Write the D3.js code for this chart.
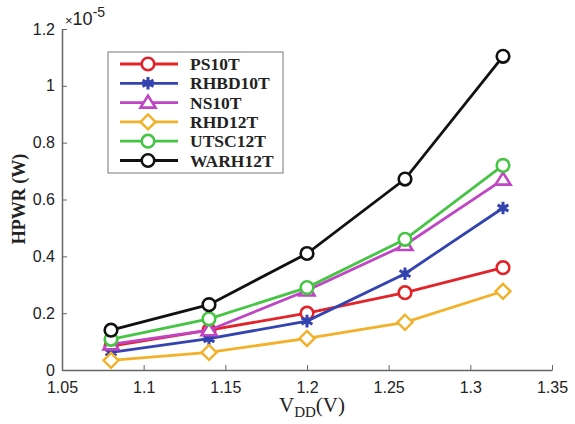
<!DOCTYPE html>
<html>
<head>
<meta charset="utf-8">
<script src="https://cdn.jsdelivr.net/npm/d3@7"></script>
<style>
  body { margin: 0; background: white; }
  .tick text { font-family: Arial, "Liberation Sans", sans-serif; font-size: 16px; fill: #222; }
</style>
</head>
<body>
<svg id="chart" width="575" height="424"></svg>
<script>
// x values (V_DD) and power values in units of 1e-5 W
var vdd = [1.08, 1.14, 1.2, 1.26, 1.32];
var ps10t   = [0.084, 0.14, 0.20, 0.272, 0.36];
var rhbd10t = [0.062, 0.11, 0.172, 0.339, 0.57];
var ns10t   = [0.09, 0.14, 0.28, 0.44, 0.67];
var rhd12t  = [0.034, 0.062, 0.111, 0.168, 0.277];
var utsc12t = [0.108, 0.18, 0.29, 0.46, 0.72];
var warh12t = [0.14, 0.23, 0.41, 0.672, 1.104];

var xTicks = [1.05, 1.1, 1.15, 1.2, 1.25, 1.3, 1.35];
var yTicks = [0, 0.2, 0.4, 0.6, 0.8, 1, 1.2];

var series = [
  { name: "PS10T",   values: ps10t,   color: "#e3232a", marker: "circle" },
  { name: "RHBD10T", values: rhbd10t, color: "#3344b0", marker: "star" },
  { name: "NS10T",   values: ns10t,   color: "#bf45c4", marker: "triangle" },
  { name: "RHD12T",  values: rhd12t,  color: "#f2b128", marker: "diamond" },
  { name: "UTSC12T", values: utsc12t, color: "#46c443", marker: "circle" },
  { name: "WARH12T", values: warh12t, color: "#111111", marker: "circle" }
];

var translate = function(x, y) { return "translate(" + x + "," + y + ")"; };

var margin = { top: 29, right: 23, bottom: 54, left: 62 };
var svg = d3.select("#chart");
var plotWidth = 575 - margin.left - margin.right;
var plotHeight = 424 - margin.top - margin.bottom;

var x = d3.scaleLinear().domain([1.05, 1.35]).range([0, plotWidth]);
var y = d3.scaleLinear().domain([0, 1.2]).range([plotHeight, 0]);

var plot = svg.append("g").attr("transform", translate(margin.left, margin.top));

// axes, matlab style with inward ticks
var gx = plot.append("g").attr("transform", translate(0, plotHeight))
  .call(d3.axisBottom(x).tickValues(xTicks).tickSizeInner(-5).tickSizeOuter(0).tickPadding(12)
    .tickFormat(function(d) { return d3.format("")(+d.toFixed(2)); }));
var gy = plot.append("g")
  .call(d3.axisLeft(y).tickValues(yTicks).tickSizeInner(-5).tickSizeOuter(0).tickPadding(7)
    .tickFormat(function(d) { return d3.format("")(+d.toFixed(1)); }));
gx.select(".domain").attr("stroke", "#666").attr("stroke-width", 1.5);
gy.select(".domain").attr("stroke", "#666").attr("stroke-width", 1.5);
plot.selectAll(".tick line").attr("stroke", "#666");
gx.selectAll(".tick text").attr("dy", "0.71em");

var line = d3.line()
  .x(function(d, i) { return x(vdd[i]); })
  .y(function(d) { return y(d); });

function drawMarker(g, type, color) {
  if (type === "circle") {
    g.append("circle").attr("r", 6.3).attr("fill", "white").attr("stroke", color).attr("stroke-width", 2.6);
  } else if (type === "triangle") {
    g.append("path").attr("d", "M0,-7L7.5,5L-7.5,5Z").attr("fill", "white").attr("stroke", color).attr("stroke-width", 2.6);
  } else if (type === "diamond") {
    g.append("path").attr("d", "M0,-7.5L7.5,0L0,7.5L-7.5,0Z").attr("fill", "white").attr("stroke", color).attr("stroke-width", 2.4);
  } else {
    g.append("path").attr("d", d3.symbol(d3.symbolAsterisk, 110)()).attr("fill", "none").attr("stroke", color).attr("stroke-width", 3);
    g.append("circle").attr("r", 3.5).attr("fill", color);
  }
}

series.forEach(function(s) {
  plot.append("path")
    .datum(s.values)
    .attr("fill", "none")
    .attr("stroke", s.color)
    .attr("stroke-width", 2.8)
    .attr("d", line);
  s.values.forEach(function(v, i) {
    var g = plot.append("g").attr("transform", translate(x(vdd[i]), y(v)));
    drawMarker(g, s.marker, s.color);
  });
});

// exponent label
var expo = svg.append("text").attr("x", margin.left + 3).attr("y", 25)
  .style("font-family", "Arial, sans-serif").style("fill", "#222");
expo.append("tspan").style("font-size", "13px").text("\u00d7");
expo.append("tspan").style("font-size", "18px").text("10");
expo.append("tspan").attr("dy", -8).style("font-size", "14px").text("-5");

// legend
var legend = svg.append("g").attr("transform", translate(108, 52));
legend.append("rect").attr("width", 175).attr("height", 121)
  .attr("fill", "white").attr("stroke", "#777").attr("stroke-width", 1);
series.forEach(function(s, i) {
  var row = legend.append("g").attr("transform", translate(0, 12 + i * 19.3));
  row.append("line").attr("x1", 12).attr("x2", 70).attr("stroke", s.color).attr("stroke-width", 2.8);
  drawMarker(row.append("g").attr("transform", translate(40, 0)), s.marker, s.color);
  row.append("text").attr("x", 82).attr("dy", "0.35em")
    .style("font-family", "'Liberation Serif', 'Times New Roman', serif")
    .style("font-size", "17.5px").style("font-weight", "bold").style("fill", "#222")
    .text(s.name);
});

// axis titles
svg.append("text")
  .attr("transform", translate(25, 199) + " rotate(-90)")
  .attr("text-anchor", "middle")
  .style("font-family", "'Liberation Serif', 'Times New Roman', serif")
  .style("font-size", "18px").style("font-weight", "bold").style("fill", "#222")
  .text("HPWR (W)");

var xt = svg.append("text").attr("x", 312).attr("y", 412).attr("text-anchor", "middle")
  .style("font-family", "'Liberation Serif', 'Times New Roman', serif")
  .style("font-size", "21px").style("fill", "#222");
xt.append("tspan").text("V");
xt.append("tspan").attr("dy", 5).style("font-size", "15px").text("DD");
xt.append("tspan").attr("dy", -5).text("(V)");
</script>
</body>
</html>
